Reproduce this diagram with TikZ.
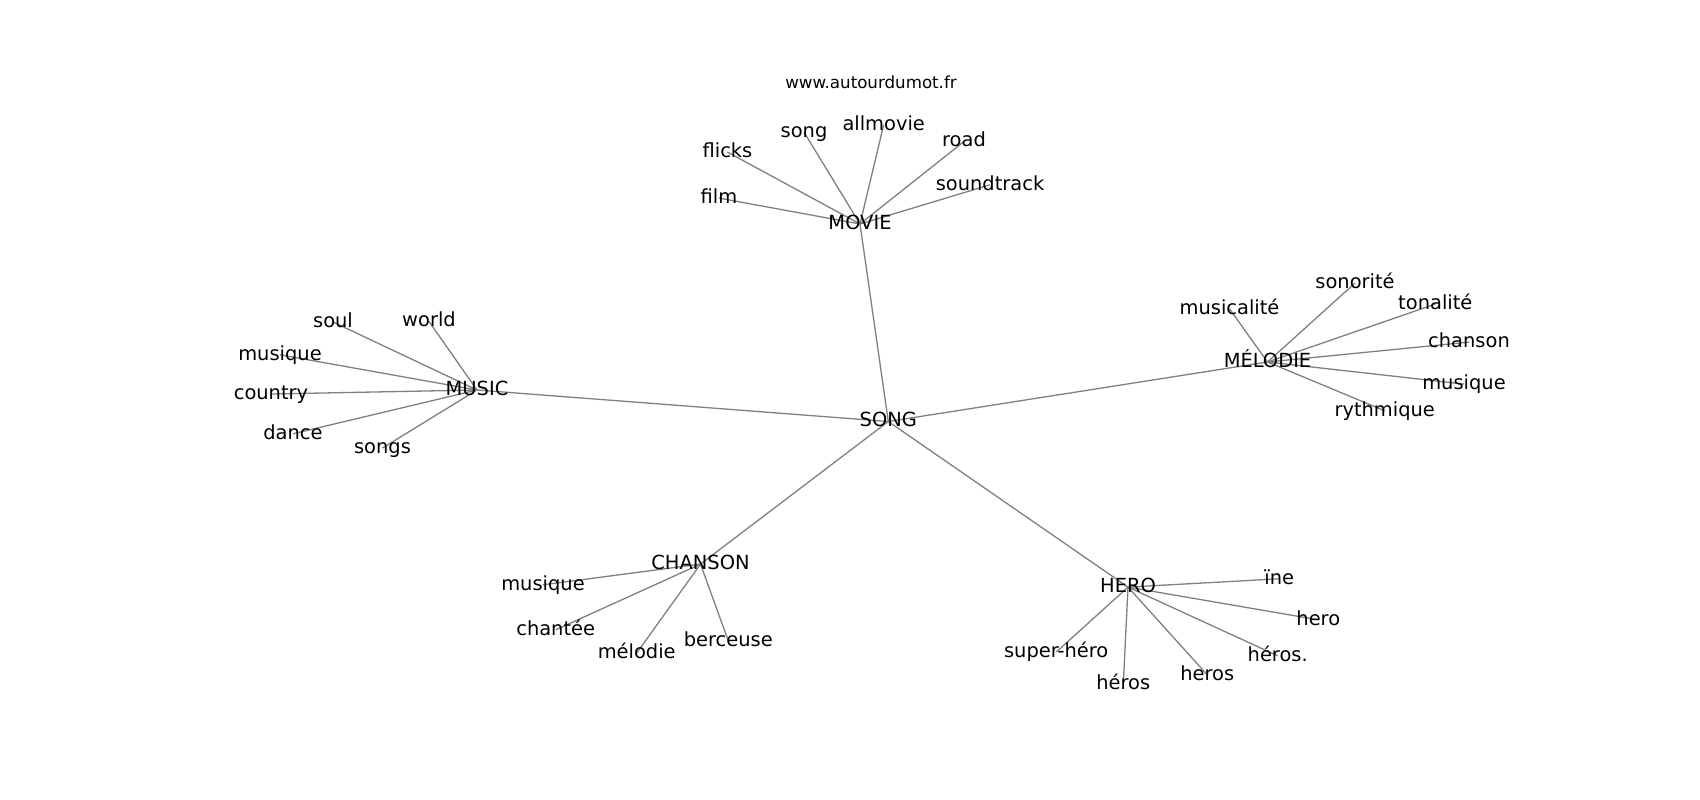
\documentclass[tikz,border=0pt]{standalone}
\usepackage{fontspec}
\setmainfont{DejaVu Sans}
\usetikzlibrary{backgrounds}
\tikzset{
  lbl/.style={font=\fontsize{19.44}{23}\selectfont, inner sep=0pt, outer sep=0pt,
    text height=14.77pt, text depth=4.34pt, anchor=center, text=black},
  ttl/.style={font=\fontsize{16.67}{20}\selectfont, inner sep=0pt, outer sep=0pt,
    text height=12.67pt, text depth=3.72pt, anchor=center, text=black},
  edge/.style={draw=gray, line width=1.3pt}
}
\begin{document}
\begin{tikzpicture}[x=1pt,y=-1pt]
\useasboundingbox (0,0) rectangle (1700,800);
\node[ttl] (title) at (871,83.8) {www.autourdumot.fr};
% hubs
\node[lbl] (song) at (888.3,421.5) {SONG};
\node[lbl] (movie) at (860,224) {MOVIE};
\node[lbl] (music) at (477,390) {MUSIC};
\node[lbl] (melodie) at (1267.5,362) {MÉLODIE};
\node[lbl] (chanson) at (700.5,564.1) {CHANSON};
\node[lbl] (hero) at (1128,587.1) {HERO};
% MOVIE leaves
\node[lbl] (mv1) at (719,198.1) {film};
\node[lbl] (mv2) at (727.5,152.1) {flicks};
\node[lbl] (mv3) at (804,132.1) {song};
\node[lbl] (mv4) at (883.7,124.8) {allmovie};
\node[lbl] (mv5) at (964,141.5) {road};
\node[lbl] (mv6) at (990,184.8) {soundtrack};
% MUSIC leaves
\node[lbl] (mu1) at (333,322) {soul};
\node[lbl] (mu2) at (429,321.5) {world};
\node[lbl] (mu3) at (280,354.8) {musique};
\node[lbl] (mu4) at (271,394) {country};
\node[lbl] (mu5) at (293,433.8) {dance};
\node[lbl] (mu6) at (382.5,448) {songs};
% MELODIE leaves
\node[lbl] (me1) at (1229.5,308.8) {musicalité};
\node[lbl] (me2) at (1355,283.1) {sonorité};
\node[lbl] (me3) at (1435.3,304.1) {tonalité};
\node[lbl] (me4) at (1469,342.1) {chanson};
\node[lbl] (me5) at (1464,384.1) {musique};
\node[lbl] (me6) at (1384.7,410.8) {rythmique};
% CHANSON leaves
\node[lbl] (ch1) at (543,584.8) {musique};
\node[lbl] (ch2) at (555.7,629.8) {chantée};
\node[lbl] (ch3) at (636.7,653.1) {mélodie};
\node[lbl] (ch4) at (728.3,640.8) {berceuse};
% HERO leaves
\node[lbl] (he1) at (1279.3,578.8) {ïne};
\node[lbl] (he2) at (1318.3,619.8) {hero};
\node[lbl] (he3) at (1277.7,655.8) {héros.};
\node[lbl] (he4) at (1207.2,674.8) {heros};
\node[lbl] (he5) at (1123.3,684.1) {héros};
\node[lbl] (he6) at (1056.2,652.1) {super-héro};
\begin{scope}[on background layer]
  \fill[white] (0,0) rectangle (1700,800);
  \foreach \h in {movie,music,melodie,chanson,hero}
    \draw[edge] (song.center) -- (\h.center);
  \foreach \l in {mv1,mv2,mv3,mv4,mv5,mv6}
    \draw[edge] (movie.center) -- (\l.center);
  \foreach \l in {mu1,mu2,mu3,mu4,mu5,mu6}
    \draw[edge] (music.center) -- (\l.center);
  \foreach \l in {me1,me2,me3,me4,me5,me6}
    \draw[edge] (melodie.center) -- (\l.center);
  \foreach \l in {ch1,ch2,ch3,ch4}
    \draw[edge] (chanson.center) -- (\l.center);
  \foreach \l in {he1,he2,he3,he4,he5,he6}
    \draw[edge] (hero.center) -- (\l.center);
\end{scope}
\end{tikzpicture}
\end{document}
